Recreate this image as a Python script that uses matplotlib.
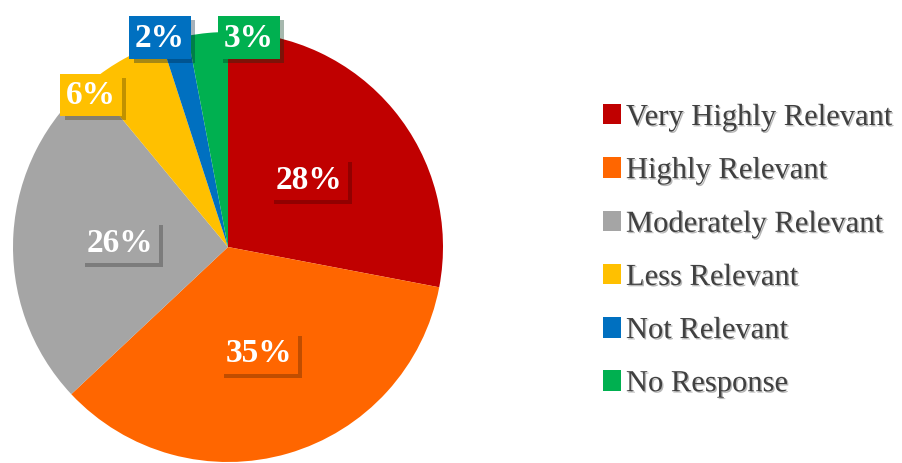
import matplotlib.pyplot as plt
import matplotlib.patheffects as pe

labels = ['Very Highly Relevant', 'Highly Relevant', 'Moderately Relevant',
          'Less Relevant', 'Not Relevant', 'No Response']
values = [28, 35, 26, 6, 2, 3]
colors = ['#c00000', '#ff6600', '#a5a5a5', '#ffc000', '#0070c0', '#00b050']

fig = plt.figure(figsize=(9.02, 4.64), dpi=100)
ax = fig.add_axes([13 / 902, 1 / 464, 430 / 902, 430 / 464])
wedges, _ = ax.pie(values, colors=colors, startangle=90, counterclock=False,
                   radius=1.0, wedgeprops=dict(linewidth=0))
ax.set_xlim(-1, 1)
ax.set_ylim(-1, 1)
ax.set_aspect('equal')

# where the % boxes sit (data coords, pie radius 1)
box_xy = [(0.377, 0.316), (0.144, -0.493), (-0.502, 0.023),
          (-0.637, 0.707), (-0.316, 0.975), (0.098, 0.975)]

for v, c, (x, y) in zip(values, colors, box_xy):
    t = ax.text(x, y, f'{v}%', ha='center', va='center', color='white',
                fontsize=24, fontweight='bold', family='Liberation Serif',
                bbox=dict(boxstyle='square,pad=0.17', fc=c, ec='none'))
    t.get_bbox_patch().set_path_effects([
        pe.SimplePatchShadow(offset=(3, -3), alpha=0.35), pe.Normal()])

leg = fig.legend(wedges, labels, loc='upper left', bbox_to_anchor=(603 / 902, 1 - 104 / 464),
                 frameon=False, handlelength=0.6, handleheight=0.65, handletextpad=0.15,
                 labelspacing=0.79, borderpad=0, borderaxespad=0,
                 prop=dict(family='Liberation Serif', size=22))
for txt in leg.get_texts():
    txt.set_color('#404040')
    txt.set_path_effects([pe.withSimplePatchShadow(offset=(1, -1), alpha=0.3)])

fig.savefig('out.png', dpi=100)
